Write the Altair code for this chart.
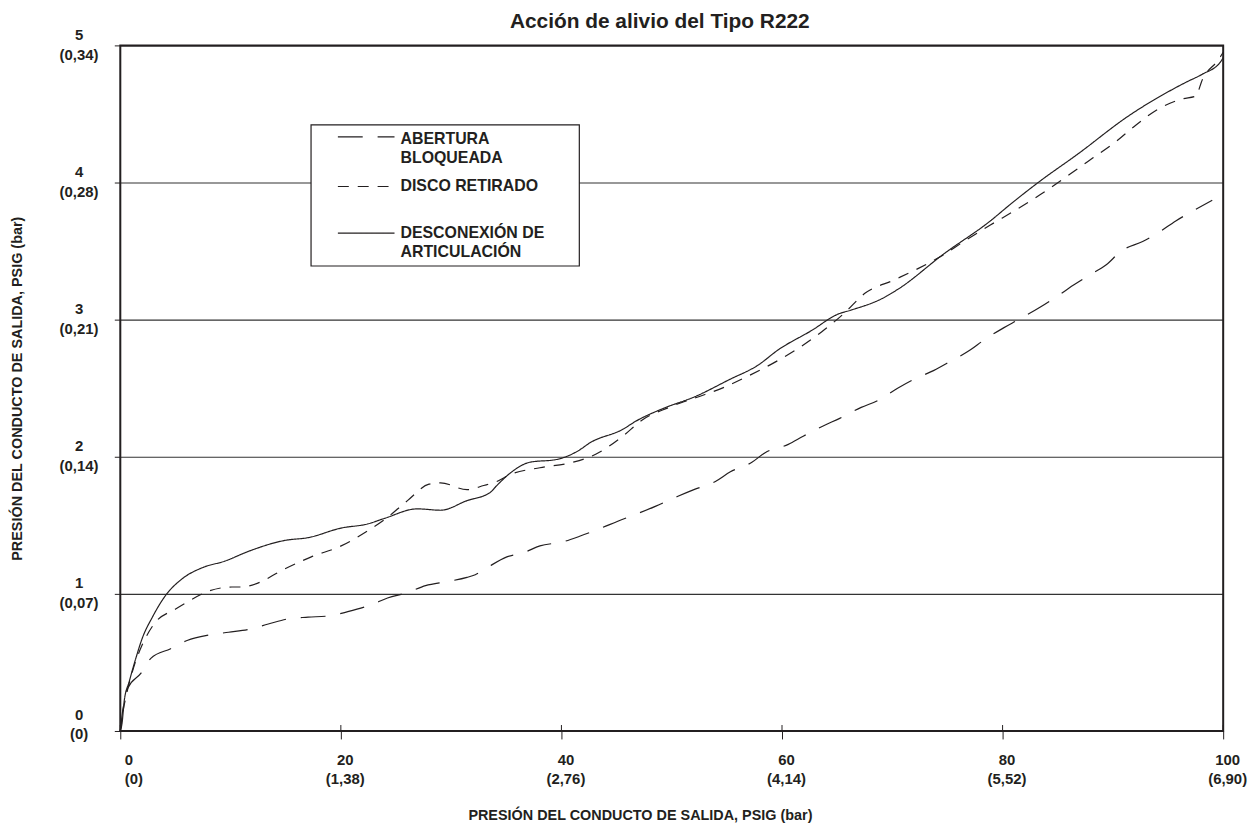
import altair as alt
import pandas as pd

TITLE = "Acción de alivio del Tipo R222"
AXIS_TITLE = "PRESIÓN DEL CONDUCTO DE SALIDA, PSIG (bar)"
SERIES = ["ABERTURA BLOQUEADA", "DISCO RETIRADO", "DESCONEXIÓN DE ARTICULACIÓN"]
LEGEND_LINES = [["ABERTURA", "BLOQUEADA"], ["DISCO RETIRADO"], ["DESCONEXIÓN DE", "ARTICULACIÓN"]]

X_TICKS = [0, 20, 40, 60, 80, 100]
X_TICK_BAR = ["(0)", "(1,38)", "(2,76)", "(4,14)", "(5,52)", "(6,90)"]
Y_TICKS = [0, 1, 2, 3, 4, 5]
Y_TICK_BAR = ["(0)", "(0,07)", "(0,14)", "(0,21)", "(0,28)", "(0,34)"]

abertura = [(0, 0), (0.14, 0.10), (0.32, 0.20), (0.66, 0.31), (1.86, 0.42), (2.77, 0.53),
            (4.57, 0.60), (6.06, 0.66), (8.02, 0.70), (9.82, 0.72), (11.62, 0.74), (13.42, 0.78),
            (15.38, 0.82), (17.03, 0.83), (18.98, 0.84), (20.63, 0.87), (22.73, 0.92), (24.23, 0.97),
            (26.04, 1.01), (27.68, 1.06), (29.64, 1.09), (31.44, 1.12), (32.19, 1.14), (33.24, 1.19),
            (35.05, 1.27), (36.55, 1.30), (38.05, 1.35), (40.15, 1.38), (41.65, 1.42), (43.6, 1.48),
            (45.11, 1.53), (47.05, 1.59), (48.56, 1.64), (50.51, 1.71), (52.01, 1.76), (53.96, 1.82),
            (55.32, 1.89), (57.27, 1.96), (58.47, 2.03), (60.57, 2.09), (61.92, 2.15), (63.87, 2.23),
            (65.23, 2.28), (67.18, 2.36), (68.68, 2.41), (70.48, 2.50), (71.83, 2.56), (73.78, 2.63),
            (75.14, 2.69), (77.09, 2.78), (78.29, 2.85), (80.09, 2.94), (81.44, 3.00), (83.39, 3.09),
            (84.75, 3.16), (86.4, 3.25), (87.75, 3.32), (89.4, 3.40), (90.75, 3.50), (92.7, 3.57),
            (94.05, 3.63), (95.7, 3.72), (97.21, 3.79), (99.01, 3.87)]

disco = [(0, 0), (0.2, 0.12), (0.6, 0.28), (1.2, 0.46), (2.0, 0.63), (3.06, 0.78), (5.02, 0.89),
         (6.06, 0.94), (8.02, 1.02), (10.12, 1.05), (11.02, 1.05), (12.52, 1.08), (14.62, 1.17),
         (17.32, 1.27), (20.03, 1.35), (22.43, 1.46), (23.94, 1.54), (26.04, 1.68), (27.99, 1.80),
         (29.04, 1.81), (31.44, 1.76), (32.95, 1.79), (34.14, 1.82), (35.34, 1.87), (38.05, 1.92),
         (41.05, 1.96), (43.15, 2.02), (45.56, 2.15), (47.36, 2.27), (49.76, 2.36), (52.16, 2.43),
         (54.86, 2.51), (56.96, 2.59), (59.37, 2.69), (61.47, 2.79), (63.58, 2.91), (65.68, 3.05),
         (67.48, 3.19), (70.18, 3.29), (72.28, 3.37), (74.38, 3.46), (76.49, 3.57), (78.89, 3.69),
         (80.99, 3.79), (83.39, 3.91), (86.09, 4.06), (88.2, 4.18), (90.3, 4.30), (92.1, 4.42),
         (94.2, 4.54), (96.31, 4.61), (97.51, 4.63), (98.11, 4.75), (99.61, 4.90), (100, 4.95)]

desconexion = [(0, 0), (0.15, 0.05), (0.36, 0.22), (0.81, 0.36), (1.41, 0.53), (2.01, 0.68),
               (2.91, 0.83), (4.12, 0.99), (5.61, 1.11), (7.41, 1.19), (9.52, 1.24), (11.62, 1.31),
               (14.93, 1.39), (17.03, 1.41), (20.03, 1.48), (22.43, 1.51), (23.94, 1.55), (26.94, 1.62),
               (29.04, 1.61), (31.44, 1.68), (33.54, 1.74), (34.14, 1.79), (35.34, 1.88), (37.14, 1.96),
               (39.55, 1.98), (41.65, 2.05), (42.55, 2.10), (45.56, 2.20), (46.76, 2.26), (49.16, 2.35),
               (52.16, 2.44), (55.16, 2.56), (57.86, 2.67), (59.66, 2.78), (62.67, 2.92), (65.07, 3.04),
               (66.28, 3.07), (68.98, 3.15), (70.48, 3.22), (74.68, 3.48), (78.89, 3.72), (80.69, 3.84),
               (83.39, 4.01), (86.69, 4.20), (91.5, 4.49), (96.6, 4.73), (98.11, 4.79), (99.76, 4.88),
               (100, 4.91)]

C = "#231f20"
FONT = "Liberation Sans"

rows = []
for name, pts in zip(SERIES, [abertura, disco, desconexion]):
    for i, (x, y) in enumerate(pts):
        rows.append({"serie": name, "orden": i, "x": x, "y": y})
df = pd.DataFrame(rows)

DASHES = [[25, 15], [11, 9], [1, 0]]


def bar_expr(ticks, bars):
    expr = "''"
    for t, b in reversed(list(zip(ticks, bars))):
        expr = f"datum.value == {t} ? '{b}' : ({expr})"
    return f"[datum.label, {expr}]"


W, H = 1110, 690

x_enc = alt.X("x:Q", scale=alt.Scale(domain=[0, 100], nice=False),
              axis=alt.Axis(values=X_TICKS, format="d", grid=False, domain=False,
                            tickColor=C, tickSize=8, tickWidth=1,
                            labelExpr=bar_expr(X_TICKS, X_TICK_BAR),
                            labelFont=FONT, labelFontSize=15, labelFontWeight="bold",
                            labelColor=C, labelPadding=14, labelLineHeight=19,
                            labelBaseline="top", labelOffset=4,
                            labelAlign={"condition": {"test": "datum.value == 0", "value": "left"},
                                        "value": "center"},
                            title=AXIS_TITLE, titleFont=FONT, titleFontSize=14.5,
                            titleFontWeight="bold", titleColor=C,
                            titleX=523, titleY=85, titleAlign="center",
                            titleBaseline="middle"))
y_enc = alt.Y("y:Q", scale=alt.Scale(domain=[0, 5], nice=False),
              axis=alt.Axis(values=Y_TICKS, format="d", grid=True, gridColor="#333333",
                            gridWidth=1.2, domain=False, tickColor=C, tickSize=6, tickWidth=1,
                            labelExpr=bar_expr(Y_TICKS, Y_TICK_BAR),
                            labelFont=FONT, labelFontSize=15, labelFontWeight="bold",
                            labelColor=C, labelPadding=36, labelLineHeight=20,
                            labelAlign="center", labelBaseline="middle",
                            labelOffset={"condition": {"test": "datum.value == 0", "value": -17},
                                         "value": -11},
                            title=AXIS_TITLE, titleFont=FONT, titleFontSize=14.5,
                            titleFontWeight="bold", titleColor=C,
                            titleX=-103, titleY=H / 2, titleAngle=270,
                            titleAlign="center", titleBaseline="middle"))

lines = alt.Chart(df).mark_line(color=C, strokeWidth=1.2, interpolate="monotone").encode(
    x=x_enc, y=y_enc,
    strokeDash=alt.StrokeDash("serie:N", scale=alt.Scale(domain=SERIES, range=DASHES), legend=None),
    detail="serie:N",
    order="orden:Q",
)

inner_ticks = alt.Chart(pd.DataFrame({"x": X_TICKS})).mark_rule(color=C, strokeWidth=1).encode(
    x="x:Q", y=alt.value(H - 6), y2=alt.value(H)
)

one = pd.DataFrame({"a": [0]})
frame = alt.Chart(one).mark_rect(fillOpacity=0, stroke=C, strokeWidth=2).encode(
    x=alt.value(0), x2=alt.value(W), y=alt.value(0), y2=alt.value(H)
)

title = alt.Chart(one).mark_text(align="center", baseline="alphabetic", font=FONT, fontSize=21,
                                 fontWeight="bold", color=C).encode(
    x=alt.value(W / 2 - 12), y=alt.value(-18), text=alt.value(TITLE)
)

box = alt.Chart(one).mark_rect(fill="white", stroke=C, strokeWidth=1.2).encode(
    x=alt.value(192), x2=alt.value(462), y=alt.value(80), y2=alt.value(222)
)

legend_layers = [box]
sym_y = [92, 142, 189]
txt_y = [86, 134, 181]
for i in range(3):
    legend_layers.append(
        alt.Chart(one).mark_rule(color=C, strokeWidth=1.2, strokeDash=DASHES[i]).encode(
            x=alt.value(219), x2=alt.value(276), y=alt.value(sym_y[i])
        )
    )
    legend_layers.append(
        alt.Chart(one).mark_text(align="left", baseline="top", font=FONT, fontSize=16,
                                 fontWeight="bold", color=C, lineHeight=19).encode(
            x=alt.value(282), y=alt.value(txt_y[i]), text=alt.value(LEGEND_LINES[i])
        )
    )

chart = alt.layer(lines, inner_ticks, frame, title, *legend_layers).properties(
    width=W, height=H,
    padding={"left": 113, "top": 35, "right": 27, "bottom": 96},
    autosize=alt.AutoSizeParams(type="none"),
).configure_view(stroke=C, strokeWidth=2).configure(background="white")

chart.save("out.html", embed_options={"renderer": "svg", "actions": False})
